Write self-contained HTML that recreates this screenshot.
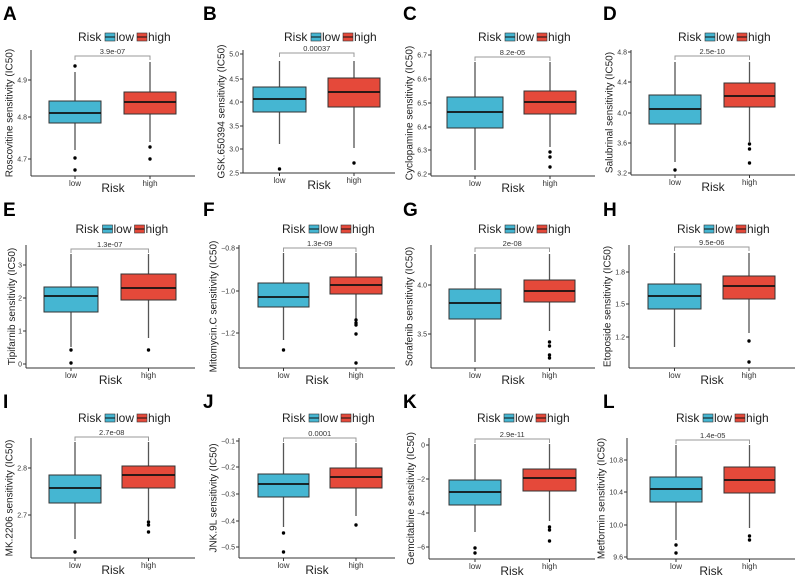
<!DOCTYPE html>
<html><head><meta charset="utf-8"><style>
body{margin:0;background:#fff}
svg{display:block;font-family:"Liberation Sans",Arial,sans-serif}
</style></head><body>
<svg id="s" width="797" height="579" viewBox="0 0 797 579" xmlns="http://www.w3.org/2000/svg"></svg>
<script>
const P=[
{L:"A",ox:0,row:0,ax:31,bot:176,lab:"Roscovitine sensitivity (IC50)",ticks:[["4.9",80],["4.8",117],["4.7",159]],br:56,p:"3.9e-07",
 lo:[49,101,72,101,113,123,150,[66,158,170]],hi:[124,176,62,92,102,114,142,[147,159]]},
{L:"B",ox:200,row:0,ax:243,bot:173,lab:"GSK.650394 sensitivity (IC50)",ticks:[["5.0",54],["4.5",79],["4.0",102],["3.5",126],["3.0",149],["2.5",173]],br:53,p:"0.00037",
 lo:[253,306,61,87,99,112,144,[169]],hi:[328,380,61,78,92,107,148,[163]]},
{L:"C",ox:400,row:0,ax:431,bot:176,lab:"Cyclopamine sensitivity (IC50)",ticks:[["6.7",55],["6.6",79],["6.5",103],["6.4",127],["6.3",150],["6.2",174]],br:57,p:"8.2e-05",
 lo:[447,503,62,97,112,128,170,[]],hi:[524,576,62,91,102,114,147,[152,157,167]]},
{L:"D",ox:600,row:0,ax:631,bot:175,lab:"Salubrinal sensitivity (IC50)",ticks:[["4.8",52],["4.4",82],["4.0",113],["3.6",143],["3.2",173]],br:56,p:"2.5e-10",
 lo:[649,701,62,95,109,124,162,[170]],hi:[724,775,62,83,96,107,142,[144,149,163]]},
{L:"E",ox:0,row:1,ax:26,bot:368,lab:"Tipifarnib sensitivity (IC50)",ticks:[["3",265],["2",298],["1",331],["0",364]],br:249,p:"1.3e-07",
 lo:[44,98,254,287,296,312,347,[350,363]],hi:[121,176,254,274,288,300,338,[350]]},
{L:"F",ox:200,row:1,ax:239,bot:368,lab:"Mitomycin.C sensitivity (IC50)",ticks:[["\u22120.8",248],["\u22121.0",291],["\u22121.2",333]],br:248,p:"1.3e-09",
 lo:[258,309,253,283,297,307,340,[350]],hi:[330,382,253,277,285,294,319,[320,323,325,334,363]]},
{L:"G",ox:400,row:1,ax:431,bot:368,lab:"Sorafenib sensitivity (IC50)",ticks:[["4.0",285],["3.5",334]],br:248,p:"2e-08",
 lo:[449,501,254,289,303,319,362,[]],hi:[524,575,254,280,291,302,331,[342,346,355,358]]},
{L:"H",ox:600,row:1,ax:629,bot:368,lab:"Etoposide sensitivity (IC50)",ticks:[["1.8",272],["1.5",304],["1.2",337]],br:247,p:"9.5e-06",
 lo:[648,701,253,284,296,309,347,[]],hi:[723,775,253,276,286,299,333,[341,362]]},
{L:"I",ox:0,row:2,ax:31,bot:558,lab:"MK.2206 sensitivity (IC50)",ticks:[["2.8",468],["2.7",515]],br:437,p:"2.7e-08",
 lo:[49,101,442,475,488,503,539,[552]],hi:[122,175,442,466,475,488,520,[522,525,532]]},
{L:"J",ox:200,row:2,ax:239,bot:558,lab:"JNK.9L sensitivity (IC50)",ticks:[["\u22120.1",441],["\u22120.2",467],["\u22120.3",494],["\u22120.4",521],["\u22120.5",547]],br:438,p:"0.0001",
 lo:[258,309,443,474,484,497,527,[533,552]],hi:[330,382,443,468,477,488,516,[525]]},
{L:"K",ox:400,row:2,ax:429,bot:559,lab:"Gemcitabine sensitivity (IC50)",ticks:[["0",445],["\u22122",479],["\u22124",513],["\u22126",547]],br:439,p:"2.9e-11",
 lo:[449,501,444,480,492,505,532,[548,553]],hi:[523,576,444,469,478,491,521,[527,530,541]]},
{L:"L",ox:600,row:2,ax:627,bot:559,lab:"Metformin sensitivity (IC50)",ticks:[["10.8",460],["10.4",492],["10.0",525],["9.6",557]],br:440,p:"1.4e-05",
 lo:[650,702,445,477,489,502,540,[545,553]],hi:[724,775,445,467,480,493,528,[536,540]]}
];
const rowY=[0,195,388], letY=[20,216,408], legY=[37,229,418];
let h="";
const BLUE="#45B6D2",RED="#E5493A";
function box(b,col){
 const [x1,x2,wt,q3,md,q1,wb,out]=b,cx=(x1+x2)/2;
 let s=`<line x1="${cx}" y1="${wt}" x2="${cx}" y2="${q3}" stroke="#555" stroke-width="1.3"/>`;
 s+=`<line x1="${cx}" y1="${q1}" x2="${cx}" y2="${wb}" stroke="#555" stroke-width="1.3"/>`;
 s+=`<rect x="${x1}" y="${q3}" width="${x2-x1}" height="${q1-q3}" fill="${col}" stroke="#333" stroke-width="1"/>`;
 s+=`<line x1="${x1}" y1="${md}" x2="${x2}" y2="${md}" stroke="#111" stroke-width="1.8"/>`;
 out.forEach(y=>s+=`<circle cx="${cx}" cy="${y}" r="1.7" fill="#000"/>`);
 return s;
}
P.forEach(p=>{
 const top=rowY[p.row]+50, right=p.ox+195, pc=(p.ax+right)/2;
 h+=`<text x="${p.ox+3}" y="${letY[p.row]}" font-size="19" font-weight="bold" fill="#000">${p.L}</text>`;
 const ly=legY[p.row], lx=pc-35;
 h+=`<text x="${lx}" y="${ly+4}" font-size="12" fill="#222">Risk</text>`;
 h+=`<rect x="${lx+27}" y="${ly-4}" width="10" height="8" fill="${BLUE}" stroke="#333" stroke-width=".6"/><line x1="${lx+27}" y1="${ly}" x2="${lx+37}" y2="${ly}" stroke="#111"/>`;
 h+=`<text x="${lx+38}" y="${ly+4}" font-size="12" fill="#222">low</text>`;
 h+=`<rect x="${lx+59}" y="${ly-4}" width="10" height="8" fill="${RED}" stroke="#333" stroke-width=".6"/><line x1="${lx+59}" y1="${ly}" x2="${lx+69}" y2="${ly}" stroke="#111"/>`;
 h+=`<text x="${lx+70}" y="${ly+4}" font-size="12" fill="#222">high</text>`;
 h+=`<line x1="${p.ax}" y1="${top}" x2="${p.ax}" y2="${p.bot}" stroke="#333" stroke-width="1"/>`;
 h+=`<line x1="${p.ax}" y1="${p.bot}" x2="${right}" y2="${p.bot}" stroke="#333" stroke-width="1"/>`;
 let mw=0;
 p.ticks.forEach(t=>{mw=Math.max(mw,t[0].length*3.9);h+=`<line x1="${p.ax-3}" y1="${t[1]}" x2="${p.ax}" y2="${t[1]}" stroke="#333"/><text x="${p.ax-4}" y="${t[1]+2.5}" font-size="7" text-anchor="end" fill="#333">${t[0]}</text>`;});
 const lc=(p.lo[0]+p.lo[1])/2, hc=(p.hi[0]+p.hi[1])/2;
 [lc,hc].forEach((c,i)=>{h+=`<line x1="${c}" y1="${p.bot}" x2="${c}" y2="${p.bot+3}" stroke="#333"/><text x="${c}" y="${p.bot+10}" font-size="8" text-anchor="middle" fill="#333">${i?"high":"low"}</text>`;});
 h+=`<text x="${pc}" y="${p.bot+16}" font-size="12" text-anchor="middle" fill="#222">Risk</text>`;
 const ym=(top+p.bot)/2, yl=p.ax-4-mw-3;
 h+=`<text transform="translate(${yl},${ym}) rotate(-90)" font-size="10" text-anchor="middle" fill="#222">${p.lab}</text>`;
 h+=box(p.lo,BLUE)+box(p.hi,RED);
 h+=`<path d="M${lc} ${p.br+4}V${p.br}H${hc}V${p.br+4}" fill="none" stroke="#999" stroke-width="1"/>`;
 h+=`<text x="${(lc+hc)/2}" y="${p.br-2}" font-size="7.5" text-anchor="middle" fill="#333">${p.p}</text>`;
});
document.getElementById("s").innerHTML=h;
</script>
</body></html>
